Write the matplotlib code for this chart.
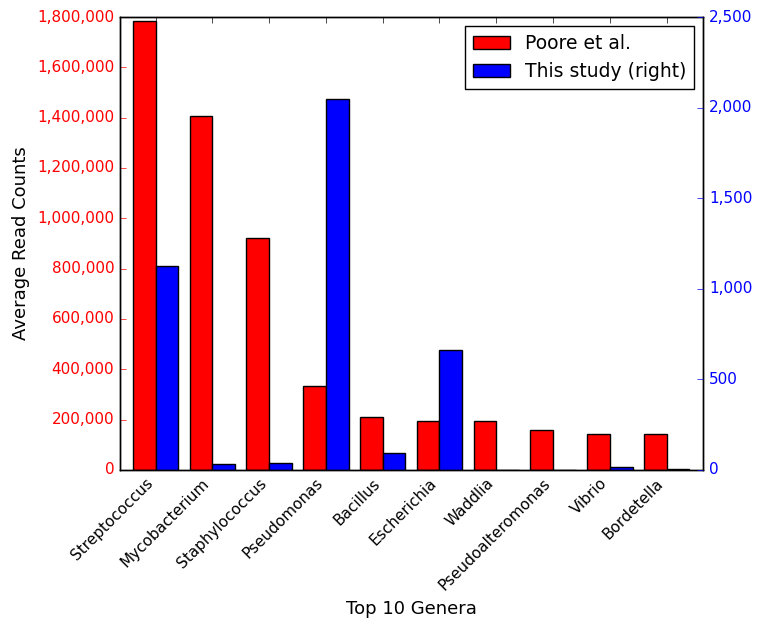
import numpy as np
import matplotlib.pyplot as plt
from matplotlib.ticker import FuncFormatter

# Data
genera = ['Streptococcus', 'Mycobacterium', 'Staphylococcus', 'Pseudomonas', 'Bacillus',
          'Escherichia', 'Waddlia', 'Pseudoalteromonas', 'Vibrio', 'Bordetella']
poore = [1784000, 1407000, 922000, 334000, 211000, 196000, 196000, 159000, 142000, 142000]
this_study = [1126, 33, 38, 2047, 92, 662, 0, 0, 18, 5]

plt.style.use('classic')

fig = plt.figure(figsize=(7.63, 6.3), dpi=100)
ax = fig.add_axes([0.157, 0.254, 0.765, 0.719])
ax2 = ax.twinx()

x = np.arange(len(genera))
b1 = ax.bar(x, poore, width=-0.4, align='edge', color='red', edgecolor='black', label='Poore et al.')
b2 = ax2.bar(x, this_study, width=0.4, align='edge', color='blue', edgecolor='black', label='This study (right)')

ax.set_xlim(-0.63, 9.65)
ax.set_ylim(0, 1800000)
ax2.set_ylim(0, 2500)
ax.set_yticks(np.arange(0, 1800001, 200000))
ax2.set_yticks(np.arange(0, 2501, 500))

fmt = FuncFormatter(lambda v, p: f'{int(v):,}')
ax.yaxis.set_major_formatter(fmt)
ax2.yaxis.set_major_formatter(fmt)

ax.set_xticks(x)
ax.set_xticklabels(genera, rotation=45, ha='right', fontsize=11)
ax.tick_params(axis='y', colors='red', labelsize=11)
ax.tick_params(axis='x', labelsize=11)
ax2.tick_params(axis='y', colors='blue', labelsize=11)
for t in ax.yaxis.get_ticklines():
    t.set_color('black')
for t in ax2.yaxis.get_ticklines():
    t.set_color('black')

ax.set_ylabel('Average Read Counts', fontsize=13)
ax.set_xlabel('Top 10 Genera', fontsize=13)

ax.legend([b1, b2], ['Poore et al.', 'This study (right)'], loc='upper right', fontsize=13.5)

fig.savefig('out.png', dpi=100)
